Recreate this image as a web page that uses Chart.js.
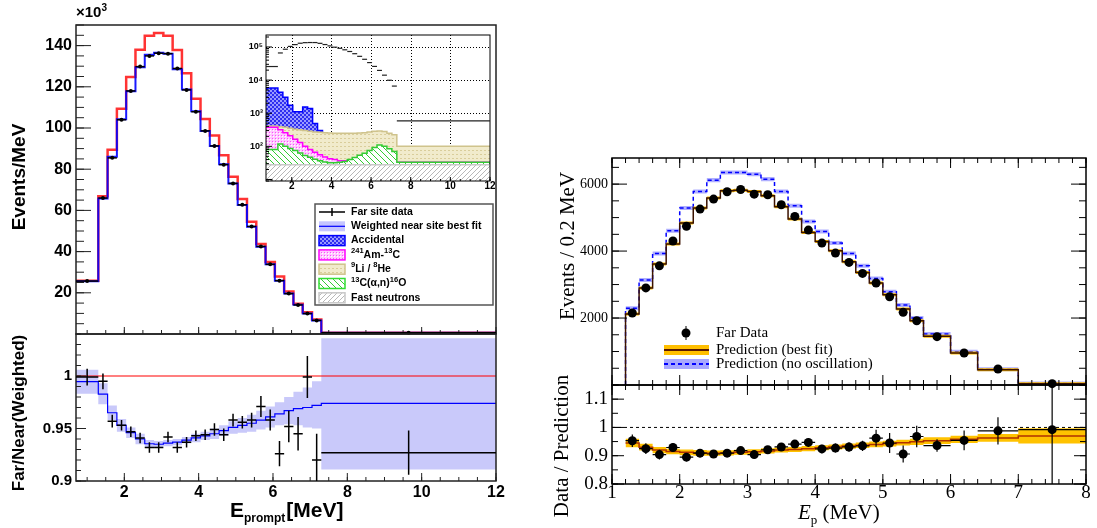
<!DOCTYPE html>
<html>
<head>
<meta charset="utf-8">
<title>Prompt energy spectra, far site</title>
<script src="https://cdn.jsdelivr.net/npm/chart.js@4.4.1/dist/chart.umd.min.js"></script>
<style>
  body { margin: 0; background: #fff; }
  #page { position: relative; width: 1097px; height: 528px; overflow: hidden; background: #fff; }
  canvas { position: absolute; }
  .lbl { position: absolute; white-space: nowrap; line-height: 1; color: #000; }
  .sans { font-family: "Liberation Sans", Arial, sans-serif; font-weight: bold; }
  .serif { font-family: "Liberation Serif", "Times New Roman", serif; }
  .vert { transform: translate(-50%, -50%) rotate(-90deg); }
</style>
</head>
<body>
<div id="page">
  <canvas id="leftMain" width="510" height="340" style="left:0px;top:0px"></canvas>
  <canvas id="leftRatio" width="510" height="198" style="left:0px;top:330px"></canvas>
  <canvas id="inset" width="259" height="170" style="left:236px;top:30px"></canvas>
  <canvas id="rightMain" width="537" height="250" style="left:560px;top:140px"></canvas>
  <canvas id="rightRatio" width="537" height="148" style="left:560px;top:380px"></canvas>

  <div class="lbl sans" style="left:76px;top:4px;font-size:15px">×10<span style="font-size:10px;position:relative;top:-6px">3</span></div>
  <div class="lbl sans vert" style="left:18px;top:177px;font-size:19px">Events/MeV</div>
  <div class="lbl sans vert" style="left:18px;top:413px;font-size:17px">Far/Near(Weighted)</div>
  <div class="lbl sans" style="left:230px;top:499px;font-size:21px">E<span style="font-size:12px;position:relative;top:5px;margin-right:1px">prompt</span>[MeV]</div>
  <div class="lbl serif vert" style="left:567px;top:246px;font-size:21px">Events / 0.2 MeV</div>
  <div class="lbl serif vert" style="left:561px;top:446px;font-size:21px">Data / Prediction</div>
  <div class="lbl serif" style="left:798px;top:502px;font-size:21px"><i>E</i><span style="font-size:13px;position:relative;top:5px">p</span> (MeV)</div>
</div>

<script>
// ---------- left figure: far site spectrum (x10^3 events/MeV) ----------
var leftEdges = [0.7, 1.3, 1.55, 1.8, 2.05, 2.3, 2.55, 2.8, 3.05, 3.3, 3.55, 3.8, 4.05, 4.3,
                 4.55, 4.8, 5.05, 5.3, 5.55, 5.8, 6.05, 6.3, 6.55, 6.8, 7.05, 7.3, 12];
var farSite = [25.7, 66.0, 85.5, 104.0, 118.0, 129.8, 135.0, 136.3, 136.1, 128.9, 118.5, 107.9, 98.6,
               91.3, 82.2, 73.1, 62.7, 52.2, 42.5, 33.8, 25.9, 19.6, 14.1, 9.9, 6.6, 0.59];
var nearBestFit = [25.6, 65.8, 86.0, 104.2, 117.9, 129.5, 135.5, 136.5, 136.0, 128.5, 118.7, 108.1, 98.5,
                   91.3, 82.4, 73.0, 62.6, 52.1, 42.4, 33.9, 25.9, 19.7, 14.2, 9.9, 6.5, 0.6];
var nearNoOsc = [25.8, 66.9, 89.5, 109.4, 124.7, 138.0, 144.8, 146.1, 144.8, 137.9, 126.6, 114.2, 104.4,
                 96.3, 86.8, 76.3, 65.5, 54.5, 43.7, 35.0, 27.9, 20.6, 14.7, 10.5, 7.0, 0.6];
var leftYTicks = [20, 40, 60, 80, 100, 120, 140];
var leftXTicks = [2, 4, 6, 8, 10, 12];

// far / near(weighted) ratio
var ratioData = [0.999, 0.995, 0.957, 0.953, 0.947, 0.941, 0.932, 0.932, 0.942, 0.932, 0.937, 0.943, 0.944,
                 0.949, 0.944, 0.958, 0.956, 0.958, 0.971, 0.958, 0.926, 0.952, 0.945, 0.999, 0.920, 0.927];
var ratioErr = [0.008, 0.0075, 0.006, 0.005, 0.005, 0.005, 0.005, 0.005, 0.005, 0.005, 0.005, 0.005, 0.005,
                0.006, 0.006, 0.006, 0.006, 0.007, 0.010, 0.010, 0.012, 0.015, 0.016, 0.020, 0.025, 0.021];
var ratioFit = [0.9946, 0.9827, 0.965, 0.953, 0.946, 0.940, 0.9355, 0.935, 0.936, 0.937, 0.939, 0.941, 0.943,
                0.945, 0.948, 0.951, 0.953, 0.955, 0.958, 0.961, 0.964, 0.967, 0.969, 0.970, 0.972, 0.974];
var ratioFitHi = [1.006, 0.993, 0.972, 0.959, 0.951, 0.945, 0.939, 0.938, 0.939, 0.940, 0.942, 0.945, 0.947,
                  0.950, 0.953, 0.957, 0.960, 0.963, 0.967, 0.971, 0.975, 0.980, 0.985, 0.989, 0.995, 1.036];
var ratioFitLo = [0.983, 0.973, 0.958, 0.947, 0.941, 0.935, 0.932, 0.932, 0.933, 0.934, 0.936, 0.937, 0.939,
                  0.940, 0.943, 0.945, 0.946, 0.947, 0.949, 0.951, 0.953, 0.954, 0.953, 0.951, 0.950, 0.911];
var ratioUnity = [1, 1];
var leftRatioTicks = [0.9, 0.95, 1];

// inset backgrounds (events/MeV, log scale)
var bkgAccidental = [5800, 4300, 3050, 1740, 1100, 1100, 1550, 1380, 490, 300, 170, 110, 70,
                     45, 30, 20, 14, 10, 8, 6, 5, 4, 3, 3, 3, 2];
var bkgLiHe = [410, 393, 380, 350, 330, 315, 300, 285, 272, 265, 258, 253, 250,
               250, 250, 250, 250, 253, 258, 272, 285, 290, 280, 250, 225, 100];
var bkgAmC = [375, 315, 258, 210, 165, 130, 100, 80, 66, 56, 48, 42, 40,
              37, 37, 36, 36, 35, 35, 35, 34, 34, 34, 34, 34, 33];
var bkgAlphaN = [80, 117, 100, 86, 75, 63, 53, 47, 41, 37, 34, 32, 32,
                 33, 35, 40, 46, 54, 62, 75, 92, 110, 100, 85, 70, 33];
var bkgFastN = [28, 28, 28, 28, 28, 28, 28, 28, 28, 28, 28, 28, 28,
                28, 28, 28, 28, 28, 28, 28, 28, 28, 28, 28, 28, 28];

// ---------- right figure: events / 0.2 MeV ----------
var rightEdges = [1.2, 1.4, 1.6, 1.8, 2.0, 2.2, 2.4, 2.6, 2.8, 3.0, 3.2, 3.4, 3.6, 3.8,
                  4.0, 4.2, 4.4, 4.6, 4.8, 5.0, 5.2, 5.4, 5.6, 6.0, 6.4, 7.0, 8.0];
var farData = [2150, 2900, 3560, 4300, 4740, 5254, 5552, 5771, 5840, 5701, 5682, 5383, 5035,
               4627, 4239, 3940, 3662, 3333, 3045, 2637, 2170, 1920, 1443, 955, 478, 40];
var predBestFit = [2120, 2896, 3612, 4210, 4836, 5284, 5582, 5800, 5820, 5781, 5652, 5323, 4955,
                   4557, 4289, 4010, 3682, 3363, 3045, 2697, 2269, 1920, 1453, 955, 458, 40];
var predNoOsc = [2289, 3134, 3930, 4607, 5284, 5781, 6119, 6348, 6348, 6298, 6149, 5781, 5353,
                 4886, 4587, 4239, 3930, 3562, 3184, 2786, 2388, 2000, 1522, 995, 470, 42];
var bestFitErr = 45, noOscErr = 60;
var rightYTicks = [2000, 4000, 6000];
var rightXTicks = [1, 2, 3, 4, 5, 6, 7, 8];

var dataOverPred = [0.953, 0.925, 0.904, 0.929, 0.895, 0.909, 0.906, 0.909, 0.918, 0.904, 0.921, 0.931, 0.941,
                    0.947, 0.924, 0.927, 0.931, 0.935, 0.962, 0.945, 0.906, 0.968, 0.936, 0.954, 0.988, 0.992];
var dataOverPredErr = [0.022, 0.019, 0.017, 0.016, 0.015, 0.014, 0.014, 0.013, 0.013, 0.013, 0.013, 0.014, 0.014,
                       0.015, 0.015, 0.016, 0.017, 0.018, 0.030, 0.035, 0.030, 0.038, 0.022, 0.035, 0.048, 0.300];
var fitOverPred = [0.945, 0.930, 0.920, 0.915, 0.912, 0.910, 0.909, 0.910, 0.912, 0.914, 0.917, 0.920, 0.922,
                   0.925, 0.928, 0.931, 0.934, 0.937, 0.940, 0.943, 0.946, 0.949, 0.953, 0.958, 0.963, 0.970];
var fitOverPredErr = [0.015, 0.012, 0.011, 0.010, 0.010, 0.010, 0.009, 0.009, 0.009, 0.009, 0.009, 0.009, 0.009,
                      0.009, 0.009, 0.009, 0.009, 0.010, 0.010, 0.010, 0.010, 0.011, 0.012, 0.013, 0.014, 0.027];
var rightRatioTicks = [0.8, 0.9, 1, 1.1];

// ---------- helpers ----------
var SANS = 'Liberation Sans', SERIF = 'Liberation Serif';

function seq(a, b, s) {
  var out = [];
  for (var k = Math.ceil(a / s - 1e-9); k * s <= b + 1e-9; k++) out.push(+(k * s).toFixed(6));
  return out;
}
function decadeTicks(lo, hi, minor) {
  var out = [];
  for (var d = 1; d <= hi; d *= 10) {
    (minor ? [2, 3, 4, 5, 6, 7, 8, 9] : [1]).forEach(function(m) {
      var v = m * d;
      if (v >= lo && v <= hi) out.push(v);
    });
  }
  return out;
}
// histogram -> step points (value i held from edge i to edge i+1)
function hist(edges, vals, fromZero) {
  var pts = [];
  if (fromZero) pts.push({x: edges[0], y: 0});
  vals.forEach(function(v, i) { pts.push({x: edges[i], y: v}); });
  pts.push({x: edges[edges.length - 1], y: vals[vals.length - 1]});
  return pts;
}
function centres(edges) {
  return edges.slice(0, -1).map(function(e, i) { return (e + edges[i + 1]) / 2; });
}
function offset(vals, d, sign) {
  return vals.map(function(v, i) { return v + sign * (Array.isArray(d) ? d[i] : d); });
}
function points(edges, vals, scale) {
  var xs = centres(edges);
  return vals.map(function(v, i) { return {x: xs[i], y: v * (scale || 1)}; });
}
function bars(edges, vals, errs, scale) {
  return vals.map(function(v, i) {
    var b = {xl: edges[i], xh: edges[i + 1]};
    if (errs) { b.yl = (v - errs[i]) * (scale || 1); b.yh = (v + errs[i]) * (scale || 1); }
    return b;
  });
}
function stepLine(pts, color, width, extra) {
  return Object.assign({data: pts, stepped: 'before', borderColor: color, borderWidth: width,
                        fill: false, pointRadius: 0}, extra || {});
}
function bandPair(hi, lo, color) {
  return [
    {data: hi, stepped: 'before', borderWidth: 0, borderColor: 'transparent', pointRadius: 0, fill: '+1', backgroundColor: color},
    {data: lo, stepped: 'before', borderWidth: 0, borderColor: 'transparent', pointRadius: 0, fill: false}
  ];
}
// scale with a fixed size (so the plot frame lands where the reference has it) and fixed label values
function axis(type, min, max, labels, size, font, pad, fmt) {
  return {
    type: type, min: min, max: max,
    grid: {display: false, drawTicks: false},
    border: {display: false},
    ticks: {display: !!fmt, autoSkip: false, maxRotation: 0, minRotation: 0,
            font: font, color: '#000', padding: pad, callback: fmt || function() { return ''; }},
    afterBuildTicks: function(s) {
      if (labels) s.ticks = labels.map(function(v) { return {value: v}; });
    },
    afterFit: function(s) {
      if (s.isHorizontal()) s.height = size; else s.width = size;
      s.paddingLeft = s.paddingRight = s.paddingTop = s.paddingBottom = 0;
    }
  };
}
function num(v) { return String(+(+v).toFixed(3)); }
var SUP = {'0': '⁰', '1': '¹', '2': '²', '3': '³', '4': '⁴', '5': '⁵', '6': '⁶', '7': '⁷', '8': '⁸', '9': '⁹'};

function pattern(size, bg, draw) {
  var c = document.createElement('canvas');
  c.width = c.height = size;
  var g = c.getContext('2d');
  g.fillStyle = bg; g.fillRect(0, 0, size, size);
  draw(g, size);
  return g.createPattern(c, 'repeat');
}
var patAccidental = pattern(4, '#9a9aff', function(g) { g.fillStyle = '#2f2ff0'; g.fillRect(0, 0, 2, 2); g.fillRect(2, 2, 2, 2); });
var patAmC = pattern(3, '#ffc8ff', function(g) { g.fillStyle = '#ff4cff'; g.fillRect(0, 0, 1, 1); g.fillStyle = '#fff'; g.fillRect(1, 1, 1, 1); });
var patLiHe = pattern(4, '#f1ebcc', function(g) { g.fillStyle = '#d9cd9a'; g.fillRect(0, 0, 2, 1); });
var patAlphaN = pattern(6, '#ffffff', function(g, s) { g.fillStyle = '#33cc33'; for (var i = 0; i < s; i++) g.fillRect(i, i, 1, 1); });
var patFastN = pattern(5, '#ffffff', function(g, s) { g.fillStyle = '#b8b8b8'; for (var i = 0; i < s; i++) g.fillRect(i, s - 1 - i, 1, 1); });

// ---------- plugins ----------
// ROOT-like frame with inward tick marks, optional dotted grid
var rootAxes = {
  id: 'rootAxes',
  beforeDatasetsDraw: function(chart, args, o) {
    var ctx = chart.ctx, a = chart.chartArea;
    ctx.save();
    if (o.background) { ctx.fillStyle = o.background; ctx.fillRect(a.left, a.top, a.width, a.height); }
    (o.grid || []).forEach(function(g) {
      var sc = chart.scales[g.axis];
      ctx.strokeStyle = g.color; ctx.lineWidth = 1; ctx.setLineDash(g.dash);
      g.values.forEach(function(v) {
        var p = Math.round(sc.getPixelForValue(v)) + 0.5;
        ctx.beginPath();
        if (g.axis === 'x') { ctx.moveTo(p, a.top); ctx.lineTo(p, a.bottom); }
        else { ctx.moveTo(a.left, p); ctx.lineTo(a.right, p); }
        ctx.stroke();
      });
    });
    ctx.restore();
  },
  afterDatasetsDraw: function(chart, args, o) {
    var ctx = chart.ctx, a = chart.chartArea;
    ctx.save();
    ctx.strokeStyle = o.color; ctx.lineWidth = o.tickWidth || 1;
    (o.marks || []).forEach(function(m) {
      var sc = chart.scales[m.axis];
      m.sides.forEach(function(side) {
        m.values.forEach(function(v) {
          if (v < sc.min || v > sc.max) return;
          var p = sc.getPixelForValue(v);
          ctx.beginPath();
          if (side === 'left') { ctx.moveTo(a.left, p); ctx.lineTo(a.left + m.len, p); }
          else if (side === 'right') { ctx.moveTo(a.right, p); ctx.lineTo(a.right - m.len, p); }
          else if (side === 'bottom') { ctx.moveTo(p, a.bottom); ctx.lineTo(p, a.bottom - m.len); }
          else { ctx.moveTo(p, a.top); ctx.lineTo(p, a.top + m.len); }
          ctx.stroke();
        });
      });
    });
    ctx.lineWidth = o.frameWidth;
    ctx.strokeRect(a.left, a.top, a.width, a.height);
    ctx.restore();
  }
};

// horizontal / vertical error bars stored on the dataset
var errorBars = {
  id: 'errorBars',
  afterDatasetsDraw: function(chart) {
    var ctx = chart.ctx, a = chart.chartArea, xs = chart.scales.x, ys = chart.scales.y;
    ctx.save();
    ctx.beginPath(); ctx.rect(a.left, a.top, a.width, a.height); ctx.clip();
    chart.data.datasets.forEach(function(ds) {
      if (!ds.errorBars) return;
      ctx.strokeStyle = ds.errorColor || '#000';
      ctx.lineWidth = ds.errorWidth || 1;
      ds.data.forEach(function(p, i) {
        var e = ds.errorBars[i];
        var px = xs.getPixelForValue(p.x), py = ys.getPixelForValue(p.y);
        ctx.beginPath();
        if (e.xl !== undefined) { ctx.moveTo(xs.getPixelForValue(e.xl), py); ctx.lineTo(xs.getPixelForValue(e.xh), py); }
        if (e.yl !== undefined) { ctx.moveTo(px, ys.getPixelForValue(e.yl)); ctx.lineTo(px, ys.getPixelForValue(e.yh)); }
        ctx.stroke();
      });
    });
    ctx.restore();
  }
};

function richText(ctx, x, y, parts, size, family, weight) {
  parts.forEach(function(p) {
    var s = p[1] ? size * 0.72 : size;
    ctx.font = weight + ' ' + s + 'px "' + family + '"';
    ctx.fillText(p[0], x, p[1] ? y - size * 0.38 : y);
    x += ctx.measureText(p[0]).width;
  });
}

var leftLegendRows = [
  {kind: 'cross', text: [['Far site data', 0]]},
  {kind: 'line', fill: 'rgba(140,140,255,0.5)', edge: '#0000ff', text: [['Weighted near site best fit', 0]]},
  {kind: 'box', fill: patAccidental, edge: '#0000ff', text: [['Accidental', 0]]},
  {kind: 'box', fill: patAmC, edge: '#ff00ff', text: [['241', 1], ['Am-', 0], ['13', 1], ['C', 0]]},
  {kind: 'box', fill: patLiHe, edge: '#cfc38c', text: [['9', 1], ['Li / ', 0], ['8', 1], ['He', 0]]},
  {kind: 'box', fill: patAlphaN, edge: '#33dd33', text: [['13', 1], ['C(α,n)', 0], ['16', 1], ['O', 0]]},
  {kind: 'box', fill: patFastN, edge: '#c8c8c8', text: [['Fast neutrons', 0]]}
];
var leftLegend = {
  id: 'leftLegend',
  afterDraw: function(chart) {
    var ctx = chart.ctx, bx = 315, by = 204, bw = 178, bh = 101;
    ctx.save();
    ctx.fillStyle = '#fff'; ctx.fillRect(bx, by, bw, bh);
    ctx.strokeStyle = '#555'; ctx.lineWidth = 1.5; ctx.strokeRect(bx, by, bw, bh);
    ctx.textBaseline = 'middle';
    leftLegendRows.forEach(function(row, i) {
      var y = by + 8 + i * 14.3, sx = bx + 4, sw = 26, sh = 10;
      if (row.kind === 'cross') {
        ctx.strokeStyle = '#000'; ctx.lineWidth = 1.5;
        ctx.beginPath(); ctx.moveTo(sx, y); ctx.lineTo(sx + sw, y);
        ctx.moveTo(sx + sw / 2, y - 4); ctx.lineTo(sx + sw / 2, y + 4); ctx.stroke();
      } else if (row.kind === 'line') {
        ctx.fillStyle = row.fill; ctx.fillRect(sx, y - sh / 2, sw, sh);
        ctx.strokeStyle = row.edge; ctx.lineWidth = 1.2;
        ctx.beginPath(); ctx.moveTo(sx, y); ctx.lineTo(sx + sw, y); ctx.stroke();
      } else {
        ctx.fillStyle = row.fill; ctx.fillRect(sx, y - sh / 2, sw, sh);
        ctx.strokeStyle = row.edge; ctx.lineWidth = 1.5; ctx.strokeRect(sx, y - sh / 2, sw, sh);
      }
      ctx.fillStyle = '#000';
      richText(ctx, bx + 36, y, row.text, 10.5, SANS, 'bold');
    });
    ctx.restore();
  }
};

var rightLegend = {
  id: 'rightLegend',
  afterDraw: function(chart) {
    var ctx = chart.ctx, sx = 104, sw = 45, tx = 156;
    ctx.save();
    ctx.fillStyle = '#000'; ctx.strokeStyle = '#000'; ctx.lineWidth = 1;
    ctx.beginPath(); ctx.arc(sx + 22, 193, 4.5, 0, Math.PI * 2); ctx.fill();
    ctx.beginPath(); ctx.moveTo(sx + 22, 186); ctx.lineTo(sx + 22, 200); ctx.stroke();
    ctx.fillStyle = '#ffbf00'; ctx.fillRect(sx, 205, sw, 10);
    ctx.strokeStyle = '#5a1a00'; ctx.lineWidth = 2;
    ctx.beginPath(); ctx.moveTo(sx, 210); ctx.lineTo(sx + sw, 210); ctx.stroke();
    ctx.fillStyle = 'rgba(110,110,255,0.6)'; ctx.fillRect(sx, 219, sw, 10);
    ctx.strokeStyle = '#0000ff'; ctx.setLineDash([4, 3]);
    ctx.beginPath(); ctx.moveTo(sx, 224); ctx.lineTo(sx + sw, 224); ctx.stroke();
    ctx.setLineDash([]);
    ctx.fillStyle = '#000'; ctx.textBaseline = 'middle';
    ctx.font = '15px "' + SERIF + '"';
    ctx.fillText('Far Data', tx, 193);
    ctx.fillText('Prediction (best fit)', tx, 210);
    ctx.fillText('Prediction (no oscillation)', tx, 224);
    ctx.restore();
  }
};

function makeChart(id, datasets, scales, padding, plugins, pluginOpts) {
  return new Chart(document.getElementById(id), {
    type: 'line',
    data: {datasets: datasets},
    options: {
      responsive: false, animation: false, devicePixelRatio: 1, events: [],
      layout: {padding: padding},
      elements: {point: {radius: 0, hoverRadius: 0}, line: {tension: 0}},
      plugins: Object.assign({legend: {display: false}, tooltip: {enabled: false}}, pluginOpts),
      scales: scales
    },
    plugins: plugins
  });
}

var sansBold = function(size) { return {family: SANS, size: size, weight: 'bold'}; };
var serif = function(size) { return {family: SERIF, size: size}; };

// ---------- left main panel ----------
makeChart('leftMain', [
  {data: points(leftEdges, farSite), showLine: false, pointRadius: 2, pointBackgroundColor: '#000',
   pointBorderWidth: 0, clip: false, errorBars: bars(leftEdges, farSite), errorWidth: 1.5},
  stepLine(hist(leftEdges, nearBestFit), 'rgba(0,0,255,0.9)', 2),
  stepLine(hist(leftEdges, nearNoOsc), 'rgba(255,0,0,0.8)', 2.5)
], {
  x: axis('linear', 0.7, 12, null, 6, sansBold(16), 0, null),
  y: axis('linear', 0, 150, leftYTicks, 76, sansBold(16), 4, num)
}, {left: 0, top: 25, right: 14, bottom: 0}, [rootAxes, errorBars, leftLegend], {
  rootAxes: {color: '#222', frameWidth: 1.5, marks: [
    {axis: 'y', sides: ['left'], values: seq(5, 150, 5), len: 8},
    {axis: 'y', sides: ['left'], values: leftYTicks, len: 15},
    {axis: 'x', sides: ['bottom'], values: seq(1, 12, 0.5), len: 4},
    {axis: 'x', sides: ['bottom'], values: leftXTicks, len: 7}
  ]}
});

// ---------- left ratio panel ----------
makeChart('leftRatio', [
  {data: points(leftEdges, ratioData), showLine: false, pointRadius: 0,
   errorBars: bars(leftEdges, ratioData, ratioErr), errorWidth: 1.5},
  stepLine([{x: leftEdges[0], y: ratioUnity[0]}, {x: leftEdges[leftEdges.length - 1], y: ratioUnity[1]}], '#ff0000', 1.2),
  stepLine(hist(leftEdges, ratioFit), '#0000ff', 1.2)
].concat(bandPair(hist(leftEdges, ratioFitHi), hist(leftEdges, ratioFitLo), '#c9c9fa')), {
  x: axis('linear', 0.7, 12, leftXTicks, 47, sansBold(16), 2, num),
  y: axis('linear', 0.9, 1.04, leftRatioTicks, 76, sansBold(15), 4, num)
}, {left: 0, top: 4, right: 14, bottom: 0}, [rootAxes, errorBars], {
  rootAxes: {color: '#222', frameWidth: 1.5, marks: [
    {axis: 'y', sides: ['left'], values: seq(0.9, 1.04, 0.01), len: 5},
    {axis: 'y', sides: ['left'], values: leftRatioTicks, len: 10},
    {axis: 'x', sides: ['bottom'], values: seq(1, 12, 0.5), len: 4},
    {axis: 'x', sides: ['bottom'], values: leftXTicks, len: 8}
  ]}
});

// ---------- inset (log scale backgrounds) ----------
var insetY = axis('logarithmic', 9, 230000, decadeTicks(100, 1e5, false), 30, sansBold(9), 3, function(v) {
  var l = Math.round(Math.log10(v));
  return '10' + String(l).split('').map(function(c) { return SUP[c]; }).join('');
});
makeChart('inset', [
  {data: points(leftEdges, farSite, 1000), showLine: false, pointRadius: 0,
   errorBars: bars(leftEdges, farSite), errorWidth: 1.2, errorColor: '#222'},
  stepLine(hist(leftEdges, bkgFastN), '#c8c8c8', 1.5, {fill: 'start', backgroundColor: patFastN}),
  stepLine(hist(leftEdges, bkgAlphaN), '#33cc33', 1.5, {fill: 'start', backgroundColor: patAlphaN}),
  stepLine(hist(leftEdges, bkgAmC), '#ff00ff', 1.5, {fill: 'start', backgroundColor: patAmC}),
  stepLine(hist(leftEdges, bkgLiHe), '#cfc38c', 1.5, {fill: 'start', backgroundColor: patLiHe}),
  stepLine(hist(leftEdges, bkgAccidental), '#0000ff', 1.5, {fill: 'start', backgroundColor: patAccidental})
], {
  x: axis('linear', 0.7, 12, leftXTicks, 19, sansBold(10), -1, num),
  y: insetY
}, {left: 0, top: 5, right: 5, bottom: 0}, [rootAxes, errorBars], {
  rootAxes: {color: '#000', frameWidth: 1, background: '#fff', grid: [
    {axis: 'x', values: seq(2, 10, 2), dash: [1, 2], color: '#000'},
    {axis: 'y', values: decadeTicks(100, 1e5, false), dash: [1, 2], color: '#000'}
  ], marks: [
    {axis: 'y', sides: ['left'], values: decadeTicks(9, 230000, true), len: 3},
    {axis: 'y', sides: ['left'], values: decadeTicks(10, 1e5, false), len: 6},
    {axis: 'x', sides: ['bottom'], values: seq(1, 12, 0.5), len: 2},
    {axis: 'x', sides: ['bottom'], values: leftXTicks, len: 4}
  ]}
});

// ---------- right main panel ----------
makeChart('rightMain', [
  {data: points(rightEdges, farData), showLine: false, pointRadius: 4.5, pointBackgroundColor: '#000',
   pointBorderWidth: 0, clip: false},
  stepLine(hist(rightEdges, predBestFit, true), '#3b1200', 1.5)
].concat(bandPair(hist(rightEdges, offset(predBestFit, bestFitErr, 1), true),
                  hist(rightEdges, offset(predBestFit, bestFitErr, -1), true), '#ffbf00'))
 .concat([stepLine(hist(rightEdges, predNoOsc, true), '#0000ff', 1.5, {borderDash: [4, 3]})])
 .concat(bandPair(hist(rightEdges, offset(predNoOsc, noOscErr, 1), true),
                  hist(rightEdges, offset(predNoOsc, noOscErr, -1), true), 'rgba(110,110,255,0.55)')), {
  x: axis('linear', 1, 8, null, 5, serif(19), 0, null),
  y: axis('linear', 0, 6780, rightYTicks, 52, serif(14), 4, num)
}, {left: 0, top: 18, right: 11, bottom: 0}, [rootAxes, errorBars, rightLegend], {
  rootAxes: {color: '#000', frameWidth: 1.5, marks: [
    {axis: 'y', sides: ['left', 'right'], values: seq(0, 6780, 500), len: 7},
    {axis: 'y', sides: ['left', 'right'], values: rightYTicks, len: 15},
    {axis: 'x', sides: ['bottom', 'top'], values: seq(1, 8, 0.2), len: 5},
    {axis: 'x', sides: ['bottom', 'top'], values: rightXTicks, len: 10}
  ]}
});

// ---------- right ratio panel ----------
makeChart('rightRatio', [
  {data: points(rightEdges, dataOverPred), showLine: false, pointRadius: 4.5, pointBackgroundColor: '#000',
   pointBorderWidth: 0, errorBars: bars(rightEdges, dataOverPred, dataOverPredErr), errorWidth: 1.2},
  stepLine([{x: rightXTicks[0], y: ratioUnity[0]}, {x: rightXTicks[rightXTicks.length - 1], y: ratioUnity[1]}], '#000', 1, {borderDash: [3, 3]}),
  stepLine(hist(rightEdges, fitOverPred), '#b03000', 1.5)
].concat(bandPair(hist(rightEdges, offset(fitOverPred, fitOverPredErr, 1)),
                  hist(rightEdges, offset(fitOverPred, fitOverPredErr, -1)), '#ffc200')), {
  x: axis('linear', 1, 8, rightXTicks, 44, serif(19), -2, num),
  y: axis('linear', 0.8, 1.15, rightRatioTicks, 52, serif(19), 4, num)
}, {left: 0, top: 5, right: 11, bottom: 0}, [rootAxes, errorBars], {
  rootAxes: {color: '#000', frameWidth: 1.5, marks: [
    {axis: 'y', sides: ['left', 'right'], values: seq(0.8, 1.15, 0.05), len: 6},
    {axis: 'y', sides: ['left', 'right'], values: rightRatioTicks, len: 12},
    {axis: 'x', sides: ['bottom', 'top'], values: seq(1, 8, 0.2), len: 5},
    {axis: 'x', sides: ['bottom', 'top'], values: rightXTicks, len: 10}
  ]}
});
</script>
</body>
</html>
